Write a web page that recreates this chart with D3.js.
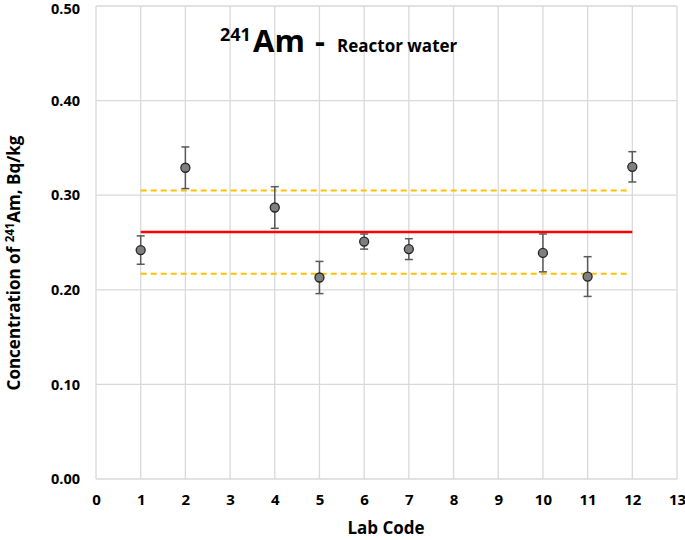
<!DOCTYPE html>
<html><head><meta charset="utf-8">
<script src="https://cdn.jsdelivr.net/npm/d3@7"></script>
<style>body{margin:0;background:#fff}svg{display:block}</style>
</head><body>
<script>
const labCodes = [1, 2, 4, 5, 6, 7, 10, 11, 12];
const values   = [0.242, 0.329, 0.287, 0.213, 0.251, 0.243, 0.239, 0.214, 0.330];
const uncert   = [0.015, 0.022, 0.022, 0.017, 0.008, 0.011, 0.020, 0.021, 0.016];
const refValue = 0.261;
const refUpper = 0.305;
const refLower = 0.217;
const refRange = [1, 12];
const xTicks = [0,1,2,3,4,5,6,7,8,9,10,11,12,13];
const yTicks = [0, 0.1, 0.2, 0.3, 0.4, 0.5];

const W = 685, H = 540;
const m = {l: 96, r: 8, t: 6, b: 61};
const svg = d3.select("body").append("svg").attr("width", W).attr("height", H);
const font = "Open Sans, Liberation Sans, sans-serif";

const x = d3.scaleLinear().domain([0, 13]).range([m.l, W - m.r]);
const y = d3.scaleLinear().domain([0, 0.5]).range([H - m.b, m.t]);

// grid
svg.append("g").selectAll("line").data(xTicks).join("line")
  .attr("x1", d => x(d)).attr("x2", d => x(d)).attr("y1", y(0)).attr("y2", y(0.5))
  .attr("stroke", "#d9d9d9").attr("stroke-width", 1.3);
svg.append("g").selectAll("line").data(yTicks).join("line")
  .attr("x1", x(0)).attr("x2", x(13)).attr("y1", d => y(d)).attr("y2", d => y(d))
  .attr("stroke", "#d9d9d9").attr("stroke-width", 1.3);

// axes labels via d3 axes
const xAxis = svg.append("g").attr("transform", `translate(0,${y(0)})`)
  .call(d3.axisBottom(x).tickValues(xTicks).tickFormat(d3.format("d")).tickSize(0).tickPadding(15));
xAxis.select(".domain").remove();
xAxis.selectAll("text").attr("font-family", font).attr("font-size", 15).attr("font-weight", "bold").attr("fill", "#000");

const yAxis = svg.append("g").attr("transform", `translate(${x(0)},0)`)
  .call(d3.axisLeft(y).tickValues(yTicks).tickFormat(d3.format(".2f")).tickSize(0).tickPadding(16));
yAxis.select(".domain").remove();
yAxis.selectAll("text").attr("font-family", font).attr("font-size", 14.5).attr("font-weight", "bold").attr("fill", "#000")
  .attr("dy", (d) => d === 0.5 ? "0.55em" : "0.32em");

// reference lines
svg.append("line").attr("x1", x(refRange[0])).attr("x2", x(refRange[1]))
  .attr("y1", y(refValue)).attr("y2", y(refValue)).attr("stroke", "#ff0000").attr("stroke-width", 2.5);
[refUpper, refLower].forEach(v => {
  svg.append("line").attr("x1", x(refRange[0])).attr("x2", x(refRange[1]) - 3)
    .attr("y1", y(v)).attr("y2", y(v)).attr("stroke", "#ffc000").attr("stroke-width", 2)
    .attr("stroke-dasharray", "6,4");
});

// points
const pts = labCodes.map((c, i) => ({c, v: values[i], e: uncert[i]}));
const g = svg.append("g");
g.selectAll(".eb").data(pts).join("line")
  .attr("x1", d => x(d.c)).attr("x2", d => x(d.c))
  .attr("y1", d => y(d.v + d.e)).attr("y2", d => y(d.v - d.e))
  .attr("stroke", "#595959").attr("stroke-width", 1.5);
["+", "-"].forEach(s => {
  g.selectAll(".cap" + (s === "+" ? "t" : "b")).data(pts).join("line")
    .attr("x1", d => x(d.c) - 4).attr("x2", d => x(d.c) + 4)
    .attr("y1", d => y(s === "+" ? d.v + d.e : d.v - d.e))
    .attr("y2", d => y(s === "+" ? d.v + d.e : d.v - d.e))
    .attr("stroke", "#595959").attr("stroke-width", 1.5);
});
g.selectAll("circle").data(pts).join("circle")
  .attr("cx", d => x(d.c)).attr("cy", d => y(d.v)).attr("r", 4.5)
  .attr("fill", "#7f7f7f").attr("stroke", "#262626").attr("stroke-width", 1.3);

// title
const tg = svg.append("g").attr("font-family", font).attr("font-weight", "bold").attr("fill", "#000");
tg.append("text").attr("x", 220).attr("y", 41).attr("font-size", 18).text("241");
tg.append("text").attr("x", 253).attr("y", 52).attr("font-size", 31).text("Am");
tg.append("text").attr("x", 315).attr("y", 52).attr("font-size", 31).text("-");
tg.append("text").attr("x", 337).attr("y", 52).attr("font-size", 17).text("Reactor water");

// axis titles
svg.append("text").attr("x", 386).attr("y", 534).attr("text-anchor", "middle")
  .attr("font-family", font).attr("font-size", 17).attr("font-weight", "bold").text("Lab Code");
const yt = svg.append("text").attr("transform", `translate(20,263) rotate(-90)`)
  .attr("text-anchor", "middle").attr("font-family", font).attr("font-size", 17).attr("font-weight", "bold");
yt.append("tspan").text("Concentration of ");
yt.append("tspan").attr("font-size", 11.5).attr("dy", -6).text("241");
yt.append("tspan").attr("dy", 6).text("Am, Bq/kg");
</script>
</body></html>
